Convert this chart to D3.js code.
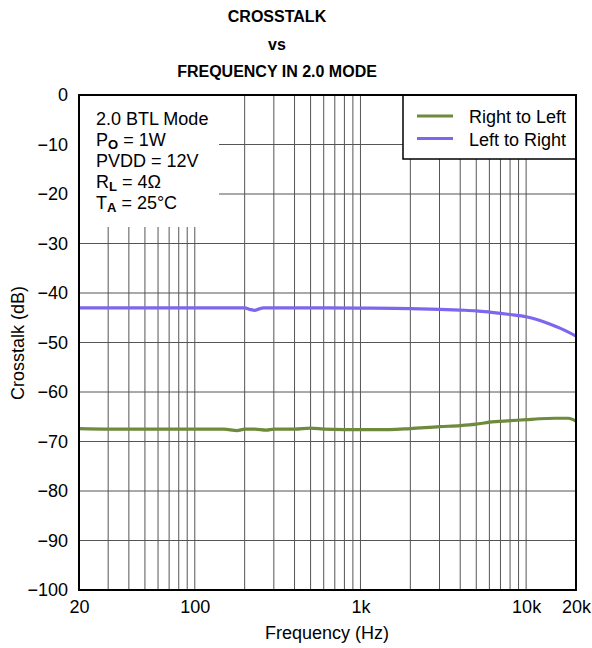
<!DOCTYPE html>
<html><head><meta charset="utf-8">
<script src="https://cdn.jsdelivr.net/npm/d3@7"></script>
<style>body{margin:0;background:#fff}svg{display:block;font-family:Arial,"Liberation Sans",sans-serif}</style>
</head><body><svg id="c" width="592" height="648"></svg>
<script>
const titleLines = ["CROSSTALK", "vs", "FREQUENCY IN 2.0 MODE"];
const xTickValues = [20, 100, 1000, 10000, 20000];
const xTickLabels = ["20", "100", "1k", "10k", "20k"];
const yTickValues = [0, -10, -20, -30, -40, -50, -60, -70, -80, -90, -100];
const conditions = ["2.0 BTL Mode", "P|O| = 1W", "PVDD = 12V", "R|L| = 4Ω", "T|A| = 25°C"];
const seriesNames = ["Right to Left", "Left to Right"];
const seriesColors = ["#6e8b3d", "#7b68ee"];

const rlFreq = [20, 30, 50, 80, 100, 150, 180, 200, 230, 270, 300, 400, 500, 600, 800, 1000, 1500, 2000, 3000, 4000, 5000, 6000, 8000, 10000, 12000, 15000, 18000, 20000];
const rlVal  = [-67.4, -67.5, -67.5, -67.5, -67.5, -67.5, -67.8, -67.5, -67.5, -67.7, -67.5, -67.5, -67.3, -67.5, -67.6, -67.6, -67.6, -67.4, -67.0, -66.8, -66.5, -66.1, -65.8, -65.6, -65.4, -65.3, -65.3, -65.9];
const lrFreq = [20, 50, 100, 150, 200, 215, 230, 245, 260, 300, 500, 1000, 2000, 3000, 4000, 5000, 6000, 7000, 8000, 10000, 12000, 14000, 16000, 18000, 20000];
const lrVal  = [-43, -43, -43, -43, -43, -43.3, -43.5, -43.2, -43.0, -43, -43, -43.05, -43.15, -43.3, -43.45, -43.6, -43.85, -44.1, -44.35, -44.8, -45.5, -46.3, -47.1, -47.9, -48.7];

const L = 79, R = 576, T = 95, B = 590;
const FS = 18;
const svg = d3.select("#c");
const x = d3.scaleLog().domain([20, 20000]).range([L, R]);
const y = d3.scaleLinear().domain([-100, 0]).range([B, T]);

// title
svg.append("g").selectAll("text").data(titleLines).join("text")
  .attr("x", 277).attr("y", (d, i) => 22 + i * 27.5)
  .attr("text-anchor", "middle").attr("font-weight", "bold").attr("font-size", 16)
  .text(d => d);

// grid
const vGrid = [];
for (let dec = 10; dec <= 10000; dec *= 10)
  for (let m = 1; m <= 9; m++) { const f = m * dec; if (f > 20 && f < 20000) vGrid.push(f); }
const grid = svg.append("g").attr("stroke", "#555").attr("stroke-width", 1);
grid.selectAll("line.v").data(vGrid).join("line")
  .attr("x1", d => x(d)).attr("x2", d => x(d)).attr("y1", T).attr("y2", B);
grid.selectAll("line.h").data(yTickValues.filter(v => v > -100 && v < 0)).join("line")
  .attr("x1", L).attr("x2", R).attr("y1", d => y(d)).attr("y2", d => y(d));

// conditions box (white mask)
svg.append("rect").attr("x", L).attr("y", T).attr("width", 140).attr("height", 132).attr("fill", "#fff");
const cond = svg.append("g").attr("font-size", FS);
conditions.forEach((c, i) => {
  const parts = c.split("|");
  const t = cond.append("text").attr("x", 96).attr("y", 124.5 + i * 21);
  t.append("tspan").text(parts[0]);
  if (parts.length > 1) {
    t.append("tspan").attr("dy", 3.5).attr("font-size", 13).attr("font-weight", "bold").text(parts[1]);
    t.append("tspan").attr("dy", -3.5).text(parts[2]);
  }
});

// series
const line = d3.line().x(d => x(d[0])).y(d => y(d[1])).curve(d3.curveMonotoneX);
const series = [d3.zip(rlFreq, rlVal), d3.zip(lrFreq, lrVal)];
svg.append("g").selectAll("path").data(series).join("path")
  .attr("d", line).attr("fill", "none")
  .attr("stroke", (d, i) => seriesColors[i]).attr("stroke-width", 3.2);

// legend
const lg = svg.append("g");
lg.append("rect").attr("x", 403).attr("y", T).attr("width", R - 403).attr("height", 64)
  .attr("fill", "#fff").attr("stroke", "#000").attr("stroke-width", 1.5);
seriesNames.forEach((n, i) => {
  lg.append("line").attr("x1", 417).attr("x2", 453).attr("y1", 116 + i * 22.5).attr("y2", 116 + i * 22.5)
    .attr("stroke", seriesColors[i]).attr("stroke-width", 3.2);
  lg.append("text").attr("x", 469).attr("y", 122.5 + i * 23).attr("font-size", FS).text(n);
});

// frame
svg.append("rect").attr("x", L).attr("y", T).attr("width", R - L).attr("height", B - T)
  .attr("fill", "none").attr("stroke", "#000").attr("stroke-width", 2);

// axes
const xAxis = d3.axisBottom(x).tickValues(xTickValues).tickFormat((d, i) => xTickLabels[i]).tickSize(0).tickPadding(10);
const gx = svg.append("g").attr("transform", `translate(0,${B})`).call(xAxis);
gx.select(".domain").remove();
gx.selectAll("text").attr("font-size", FS).attr("fill", "#000").attr("font-family", "Arial,'Liberation Sans',sans-serif");

const yAxis = d3.axisLeft(y).tickValues(yTickValues).tickFormat(d => d === 0 ? "0" : "\u2212" + Math.abs(d)).tickSize(0).tickPadding(11);
const gy = svg.append("g").attr("transform", `translate(${L},0)`).call(yAxis);
gy.select(".domain").remove();
gy.selectAll("text").attr("font-size", FS).attr("fill", "#000").attr("font-family", "Arial,'Liberation Sans',sans-serif");

svg.append("text").attr("x", 327).attr("y", 639).attr("text-anchor", "middle").attr("font-size", FS).text("Frequency (Hz)");
svg.append("text").attr("transform", "translate(24,343) rotate(-90)").attr("text-anchor", "middle").attr("font-size", FS).text("Crosstalk (dB)");
</script></body></html>
